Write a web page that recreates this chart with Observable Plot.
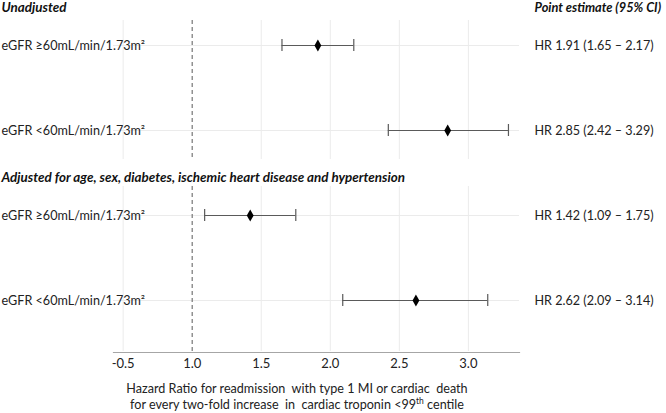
<!DOCTYPE html>
<html>
<head>
<meta charset="utf-8">
<script src="https://cdn.jsdelivr.net/npm/d3@7"></script>
<script src="https://cdn.jsdelivr.net/npm/@observablehq/plot@0.6"></script>
<style>
  html, body { margin: 0; padding: 0; background: #fff; }
  #chart { width: 666px; height: 375px; }
  #caption { font-family: Lato, "Noto Sans", sans-serif; font-size: 12.6px; line-height: 16px; color: #222;
             width: 594px; text-align: center; margin-top: 6px; }
  #caption sup { font-size: 8.5px; line-height: 0; vertical-align: 5px; }
</style>
</head>
<body>
<div id="chart"></div>
<div id="caption">Hazard Ratio for readmission&nbsp; with type 1 MI or cardiac&nbsp; death<br>for every two-fold increase&nbsp; in&nbsp; cardiac troponin &lt;99<sup>th</sup> centile</div>
<script>
// ---- data ----
const sections = ["Unadjusted", "Unadjusted",
  "Adjusted for age, sex, diabetes, ischemic heart disease and hypertension",
  "Adjusted for age, sex, diabetes, ischemic heart disease and hypertension"];
const groups = ["eGFR ≥60mL/min/1.73m²", "eGFR <60mL/min/1.73m²",
  "eGFR ≥60mL/min/1.73m²", "eGFR <60mL/min/1.73m²"];
const estimates = [1.91, 2.85, 1.42, 2.62];
const lowerCI = [1.65, 2.42, 1.09, 2.09];
const upperCI = [2.17, 3.29, 1.75, 3.14];
const xTicks = [0.5, 1, 1.5, 2, 2.5, 3];
const xTickLabels = ["-0.5", "1.0", "1.5", "2.0", "2.5", "3.0"];
const refValue = 1;
const estimateHeader = "Point estimate (95% CI)";

// ---- derived table ----
const rows = estimates.map((e, i) => ({
  key: sections[i] + "|" + groups[i],
  section: sections[i],
  group: groups[i],
  est: e, lo: lowerCI[i], hi: upperCI[i],
  label: `HR ${e.toFixed(2)} (${lowerCI[i].toFixed(2)} – ${upperCI[i].toFixed(2)})`
}));
const rowKeys = rows.map(d => d.key);
const sectionFirst = rows.filter((d, i) => i === 0 || rows[i - 1].section !== d.section);
const topRows = rows.filter(d => d.section === sections[0]);
const bottomRows = rows.filter(d => d.section !== sections[0]);
const gridXs = xTicks.filter(v => v !== refValue);

const grid = (sub, insetTop, insetBottom) => Plot.ruleX(gridXs, {
  x: d => d, y1: () => sub[0].key, y2: () => sub[sub.length - 1].key,
  stroke: "#ebebeb", strokeWidth: 1, insetTop, insetBottom
});
const refLine = (sub, insetTop, insetBottom) => Plot.ruleX([refValue], {
  x: d => d, y1: () => sub[0].key, y2: () => sub[sub.length - 1].key,
  stroke: "#808080", strokeWidth: 1.3, strokeDasharray: "4,3", insetTop, insetBottom
});
const cap = (field) => Plot.ruleX(rows, {
  x: field, y1: "key", y2: "key", stroke: "#5a5a5a", strokeWidth: 1.2, insetTop: -6, insetBottom: -6
});

const plot = Plot.plot({
  width: 666,
  height: 375,
  marginLeft: 113,
  marginRight: 147,
  marginTop: 20,
  marginBottom: 23,
  style: { fontFamily: "Lato, 'Noto Sans', sans-serif", fontSize: "12.6px", color: "#222", background: "#fff" },
  x: { domain: [0.43, 3.37] },
  y: { type: "point", domain: rowKeys, padding: 0.445, align: 0.33, axis: null },
  marks: [
    Plot.gridY({ stroke: "#ebebeb", strokeOpacity: 1 }),
    grid(topRows, -25, -29),
    grid(bottomRows, -29, -51),
    refLine(topRows, -25, -29),
    refLine(bottomRows, -29, -51),
    Plot.frame({ anchor: "bottom", stroke: "#a6a6a6", strokeWidth: 1.2 }),
    Plot.axisX({ ticks: xTicks, tickFormat: d => xTickLabels[xTicks.indexOf(d)], tickSize: 0, tickPadding: 6, fontSize: 13, fill: "#222" }),
    Plot.ruleY(rows, { y: "key", x1: "lo", x2: "hi", stroke: "#5a5a5a", strokeWidth: 1.2 }),
    cap("lo"),
    cap("hi"),
    Plot.dot(rows, { x: "est", y: "key", symbol: "diamond", r: 3.6, fill: "#000" }),
    Plot.text(rows, { y: "key", text: "group", frameAnchor: "left", textAnchor: "start", dx: -112, fill: "#222" }),
    Plot.text(rows, { y: "key", text: "label", frameAnchor: "right", textAnchor: "start", dx: 15, fill: "#222" }),
    Plot.text(sectionFirst, { y: "key", text: "section", frameAnchor: "left", textAnchor: "start", dx: -112, dy: -38,
      fontStyle: "italic", fontWeight: "bold", fontSize: 13.4, fill: "#111" }),
    Plot.text([sectionFirst[0]], { y: "key", text: () => estimateHeader, frameAnchor: "right", textAnchor: "start", dx: 15, dy: -38,
      fontStyle: "italic", fontWeight: "bold", fontSize: 12.8, fill: "#111" })
  ]
});
document.getElementById("chart").appendChild(plot);
</script>
</body>
</html>
